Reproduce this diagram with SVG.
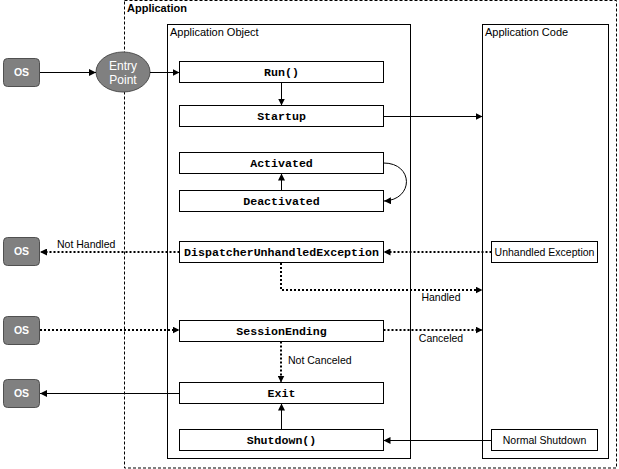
<svg xmlns="http://www.w3.org/2000/svg" width="619" height="469" viewBox="0 0 619 469">
<style>
.frame{fill:#fff;stroke:#000;stroke-width:1}
.dash{fill:none;stroke:#000;stroke-width:1;stroke-dasharray:3,2}
.box{fill:#fff;stroke:#000;stroke-width:1}
.os{fill:#808080;stroke:#505050;stroke-width:1}
.mono{font-family:"Liberation Mono","Courier New",monospace;font-size:11.6px;font-weight:bold;text-anchor:middle;fill:#000}
.lbl{font-family:"Liberation Sans",Arial,sans-serif;font-size:10.5px;fill:#000}
.ostxt{font-family:"Liberation Sans",Arial,sans-serif;font-size:10.5px;font-weight:bold;fill:#fff;text-anchor:middle}
.ep{font-family:"Liberation Sans",Arial,sans-serif;font-size:12px;fill:#fff;text-anchor:middle}
.solid{fill:none;stroke:#000;stroke-width:1}
.dot{fill:none;stroke:#000;stroke-width:2;stroke-dasharray:2,2}
</style>
<defs>
<marker id="ah" viewBox="0 0 10 10" refX="10" refY="5" markerWidth="7" markerHeight="7" markerUnits="userSpaceOnUse" orient="auto">
<path d="M0,0 L10,5 L0,10 z" fill="#000"/>
</marker>
</defs>
<rect width="619" height="469" fill="#fff"/>
<g id="application">
<rect class="dash" x="124.5" y="0.5" width="492" height="467.5"/>
<text x="127" y="12" style="font-family:'Liberation Sans',Arial,sans-serif;font-size:11px;font-weight:bold">Application</text>
</g>
<g id="application-object">
<rect class="frame" x="167.5" y="24.5" width="243" height="434"/>
<text class="lbl" x="170" y="36" style="font-size:11px">Application Object</text>
</g>
<g id="application-code">
<rect class="frame" x="482.5" y="24.5" width="126" height="434"/>
<text class="lbl" x="485" y="36" style="font-size:11px">Application Code</text>
</g>
<g id="os1"><rect class="os" x="3.5" y="58.5" width="36" height="28" rx="4"/><text class="ostxt" x="21.5" y="76">OS</text></g>
<g id="os2"><rect class="os" x="3.5" y="237.5" width="36" height="28" rx="4"/><text class="ostxt" x="21.5" y="255">OS</text></g>
<g id="os3"><rect class="os" x="3.5" y="316.5" width="36" height="28" rx="4"/><text class="ostxt" x="21.5" y="334">OS</text></g>
<g id="os4"><rect class="os" x="3.5" y="379.5" width="36" height="28" rx="4"/><text class="ostxt" x="21.5" y="397">OS</text></g>
<g id="entry-point">
<ellipse cx="123" cy="72" rx="27" ry="20" fill="#808080" stroke="#505050"/>
<text class="ep" x="123" y="70">Entry</text>
<text class="ep" x="123" y="84">Point</text>
</g>
<g id="run"><rect class="box" x="179.5" y="61.5" width="204" height="21"/><text class="mono" x="281.5" y="76">Run()</text></g>
<g id="startup"><rect class="box" x="179.5" y="105.5" width="204" height="21"/><text class="mono" x="281.5" y="120">Startup</text></g>
<g id="activated"><rect class="box" x="179.5" y="152.5" width="204" height="21"/><text class="mono" x="281.5" y="167">Activated</text></g>
<g id="deactivated"><rect class="box" x="179.5" y="190.5" width="204" height="21"/><text class="mono" x="281.5" y="205">Deactivated</text></g>
<g id="dispatcher"><rect class="box" x="179.5" y="241.5" width="204" height="21"/><text class="mono" x="281.5" y="256">DispatcherUnhandledException</text></g>
<g id="session-ending"><rect class="box" x="179.5" y="320.5" width="204" height="21"/><text class="mono" x="281.5" y="335">SessionEnding</text></g>
<g id="exit"><rect class="box" x="179.5" y="382.5" width="204" height="21"/><text class="mono" x="281.5" y="397">Exit</text></g>
<g id="shutdown"><rect class="box" x="179.5" y="429.5" width="204" height="21"/><text class="mono" x="281.5" y="444">Shutdown()</text></g>
<g id="unhandled-exception"><rect class="box" x="491.5" y="241.5" width="106" height="21"/><text class="lbl" x="544.5" y="256" text-anchor="middle">Unhandled Exception</text></g>
<g id="normal-shutdown"><rect class="box" x="491.5" y="429.5" width="106" height="21"/><text class="lbl" x="544.5" y="444" text-anchor="middle">Normal Shutdown</text></g>
<g id="connectors">
<path class="solid" d="M40,72.5 H96" marker-end="url(#ah)"/>
<path class="solid" d="M150,72.5 H179.5" marker-end="url(#ah)"/>
<path class="solid" d="M281.5,82.5 V105.5" marker-end="url(#ah)"/>
<path class="solid" d="M383.5,116.5 H482.5" marker-end="url(#ah)"/>
<path class="solid" d="M383.5,163 C414,163 414,200 384,201" marker-end="url(#ah)"/>
<path class="solid" d="M281.5,190.5 V173.5" marker-end="url(#ah)"/>
<path class="dot" d="M179.5,252 H40" marker-end="url(#ah)"/>
<path class="dot" d="M491.5,252 H383.5" marker-end="url(#ah)"/>
<path class="dot" d="M281,263 V290 H482.5" marker-end="url(#ah)"/>
<path class="dot" d="M40,330 H179.5" marker-end="url(#ah)"/>
<path class="dot" d="M383.5,330 H482.5" marker-end="url(#ah)"/>
<path class="dot" d="M281,341.5 V382.5" marker-end="url(#ah)"/>
<path class="solid" d="M179.5,393.5 H40" marker-end="url(#ah)"/>
<path class="solid" d="M281.5,429.5 V403.5" marker-end="url(#ah)"/>
<path class="solid" d="M491.5,440.5 H383.5" marker-end="url(#ah)"/>
<text class="lbl" x="57" y="248">Not Handled</text>
<text class="lbl" x="441" y="301" text-anchor="middle">Handled</text>
<text class="lbl" x="441" y="342" text-anchor="middle">Canceled</text>
<text class="lbl" x="288" y="364">Not Canceled</text>
</g>
</svg>
